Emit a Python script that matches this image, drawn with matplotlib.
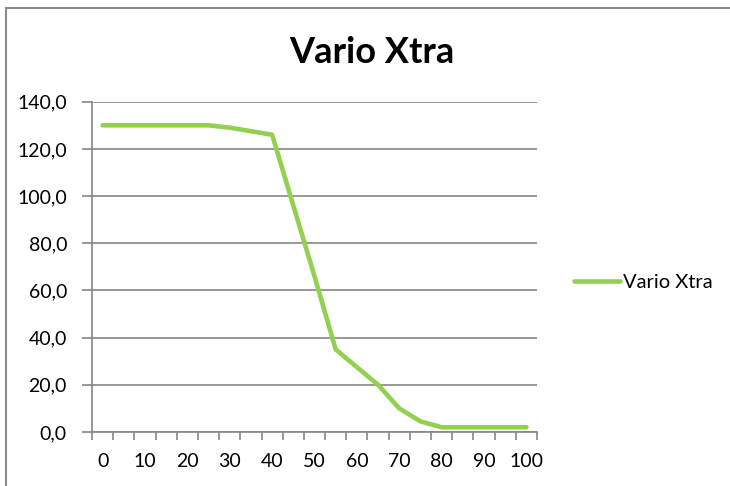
import matplotlib
matplotlib.use("Agg")
import matplotlib.pyplot as plt
from matplotlib.patches import Rectangle
import numpy as np

plt.rcParams['font.family'] = ['Lato', 'DejaVu Sans']

categories = ["0", "5", "10", "15", "20", "25", "30", "35", "40", "45", "50",
              "55", "60", "65", "70", "75", "80", "85", "90", "95", "100"]
values = [130, 130, 130, 130, 130, 130, 129, 127.5, 126, 96, 66,
          35, 27.5, 20, 10, 4.5, 2, 2, 2, 2, 2]
yticks = [0, 20, 40, 60, 80, 100, 120, 140]
series_name = "Vario Xtra"
title = "Vario Xtra"

W, H = 730, 486
fig = plt.figure(figsize=(W / 100, H / 100), dpi=100)
fig.patch.set_facecolor('white')

L, R, T, B = 92, 537, 101.7, 432
ax = fig.add_axes([L / W, 1 - B / H, (R - L) / W, (B - T) / H])

gray = '#868686'
x = np.arange(len(categories))
line, = ax.plot(x, values, color='#92D050', lw=3.3,
                solid_capstyle='round', solid_joinstyle='round', zorder=3)

ax.set_xlim(-0.5, len(categories) - 0.5)
ax.set_ylim(0, 140)

ax.set_xticks(np.arange(-0.5, len(categories), 1.0))
ax.set_xticklabels([])
ax.set_xticks(x[::2], minor=True)
ax.set_xticklabels(categories[::2], minor=True)
ax.tick_params(axis='x', which='major', length=6, width=1.2, color=gray, direction='out')
ax.tick_params(axis='x', which='minor', length=0, pad=15, labelsize=14)

ax.set_yticks(yticks)
ax.set_yticklabels([f"{v:.1f}".replace('.', ',') for v in yticks])
ax.tick_params(axis='y', length=7, width=1.2, color=gray, direction='out', pad=11, labelsize=14)

ax.yaxis.grid(True, color=gray, lw=1.2)
ax.set_axisbelow(True)
for s in ['top', 'right']:
    ax.spines[s].set_visible(False)
for s in ['left', 'bottom']:
    ax.spines[s].set_color(gray)
    ax.spines[s].set_linewidth(1.2)
    ax.spines[s].set_zorder(2)

fig.text(371.5 / W, 1 - 63.3 / H, title, ha='center', va='baseline',
         fontsize=26, fontweight='bold')

fs_leg = 14.5
leg = fig.legend([line], [series_name], loc='center left',
                 bbox_to_anchor=(574 / W, 1 - 282 / H), frameon=False,
                 borderpad=0, borderaxespad=0, handlelength=2.3,
                 handletextpad=0.15, fontsize=fs_leg)

fig.patches.append(Rectangle((5.5 / W, -0.1), 1.2, 1.1 - 8 / H,
                             transform=fig.transFigure, fill=False,
                             ec='#8a8a8a', lw=1.5))

fig.savefig('out.png', dpi=100)
